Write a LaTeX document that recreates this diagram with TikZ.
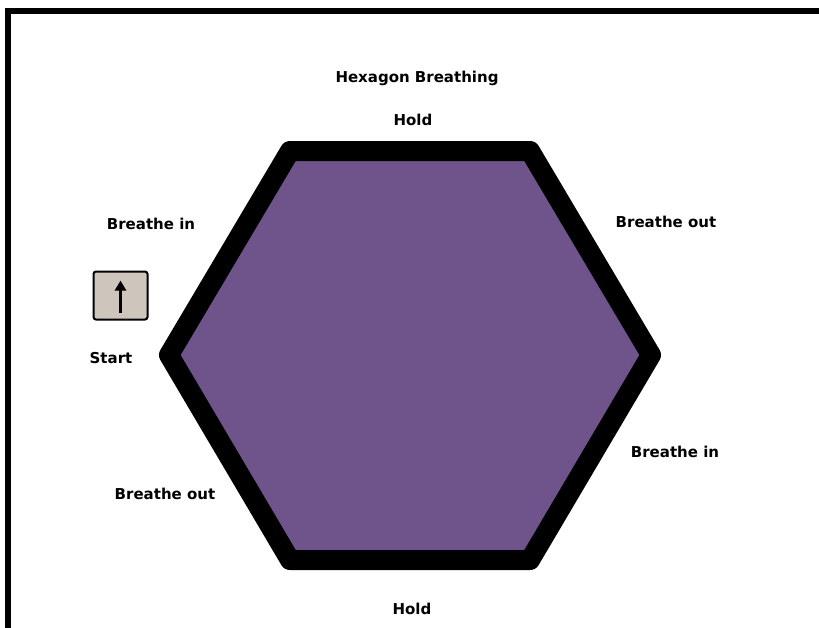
\documentclass[tikz,border=0pt]{standalone}
\usepackage{fontspec}
\setmainfont{DejaVu Sans}
\usepackage{xcolor}
\usepackage{tikz}
\usetikzlibrary{arrows.meta,positioning,calc}
\definecolor{hexfill}{HTML}{6F548C}
\definecolor{boxfill}{HTML}{CEC6BC}
\definecolor{ink}{HTML}{000000}
\tikzset{
    every picture/.style={line join=round},
    hexline/.style={draw=ink,fill=hexfill,line width=20pt,line join=round},
    framebar/.style={draw=ink,line width=6pt,line join=miter,line cap=rect},
    phaselabel/.style={font=\fontsize{15}{18}\selectfont\bfseries,text=ink,inner sep=0pt},
    startbox/.style={draw=ink,fill=boxfill,line width=2pt,rounded corners=2.5pt,
      minimum width=54pt,minimum height=48pt,inner sep=0pt},
    uparrow/.style={-{Triangle[length=10pt,width=11pt]},draw=ink,line width=3.5pt}
}
\begin{document}
\begin{tikzpicture}[x=1pt,y=-1pt]
  \useasboundingbox (0,0) rectangle (819,627);
  \fill[white] (0,0) rectangle (819,627);
  \draw[framebar] (8,630) -- (8,11) -- (822,11);
  % hexagon corners
  \coordinate (hl) at (169,355);
  \coordinate (htl) at (290,151);
  \coordinate (htr) at (530,151);
  \coordinate (hr) at (651,355);
  \coordinate (hbr) at (530,560);
  \coordinate (hbl) at (290,560);
  \draw[hexline] (hl) -- (htl) -- (htr) -- (hr) -- (hbr) -- (hbl) -- cycle;
  \node[phaselabel] (title) at (417,78) {Hexagon Breathing};
  \node[phaselabel] (holdtop) at (413,120) {Hold};
  \node[phaselabel] (inleft) at (151,224) {Breathe in};
  \node[phaselabel] (outright) at (666,222) {Breathe out};
  \node[phaselabel] (start) at (111,358) {Start};
  \node[phaselabel] (inright) at (675,452) {Breathe in};
  \node[phaselabel] (outleft) at (165,494) {Breathe out};
  \node[phaselabel] (holdbot) at (412,609) {Hold};
  \node[startbox] (sbox) at (120.5,295.5) {};
  \coordinate (atail) at ([yshift=8pt]sbox.south);
  \coordinate (ahead) at ([yshift=-10pt]sbox.north);
  \draw[uparrow] (atail) -- (ahead);
\end{tikzpicture}
\end{document}
